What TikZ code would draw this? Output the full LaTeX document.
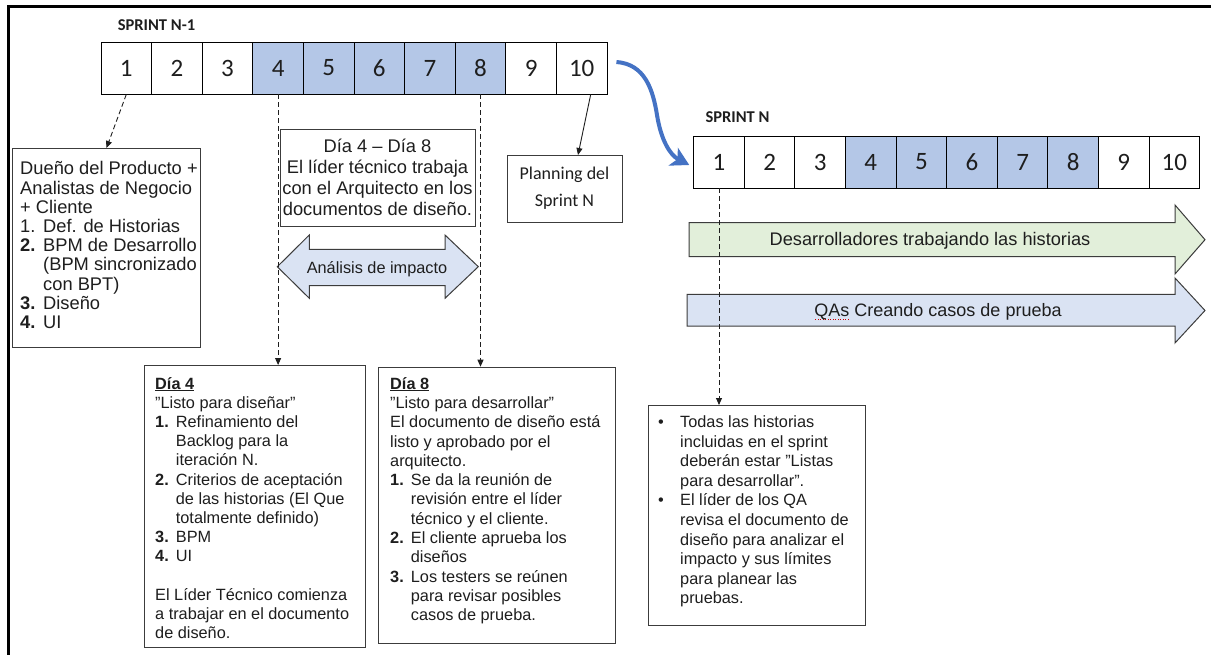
\documentclass[tikz,border=0pt]{standalone}
\usepackage{fontspec}
\setmainfont{Liberation Sans}[Ligatures=ResetAll]
\newfontfamily\calibrifont{Carlito}
\usetikzlibrary{arrows.meta,calc}

\definecolor{inkgray}{HTML}{1E1E1E}
\definecolor{cellblue}{HTML}{B4C7E7}
\definecolor{devgreen}{HTML}{E2EFDA}
\definecolor{qablue}{HTML}{DAE3F3}
\definecolor{flowblue}{HTML}{4472C4}
\definecolor{shapeline}{HTML}{3C3C3C}

% hanging indent for numbered / bulleted lines
\newlength\indw
\newcommand\itm[1]{\makebox[\indw][l]{#1}}
\newcommand\cont{\hspace*{\indw}}
\newcommand\txt[2]{\begin{minipage}[t]{#1}\raggedright #2\end{minipage}}
\newcommand\ctxt[2]{\begin{minipage}[t]{#1}\centering #2\end{minipage}}
% red dotted spell-check underline
\newcommand\squig[1]{\setbox0=\hbox{#1}\rlap{\color{red!80!black}\raisebox{-3.5pt}{\hbox to \wd0{\xleaders\hbox to 2.4pt{\hss\rule{1.1pt}{1.1pt}\hss}\hfill}}}\box0\relax}

\begin{document}
\begin{tikzpicture}[x=1pt,y=-1pt,
  cell/.style={draw=black, line width=0.9pt, minimum width=50.6pt, minimum height=52pt,
    inner sep=0pt, font=\calibrifont\fontsize{25}{30}\selectfont, text=inkgray},
  box/.style={draw=shapeline, line width=1pt, inner sep=0pt, anchor=north west},
  body/.style={inner sep=0pt, text=inkgray, anchor=base west},
  cbody/.style={inner sep=0pt, text=inkgray, anchor=base},
  sprintlbl/.style={inner sep=0pt, anchor=base, text=inkgray,
    font=\calibrifont\bfseries\fontsize{16.5}{20}\selectfont},
  blockarrow/.style={draw=shapeline, line width=1pt, line join=miter},
  dconn/.style={draw=inkgray, line width=0.9pt, dash pattern=on 5pt off 3pt,
    -{Triangle[length=7pt,width=6pt]}},
  sconn/.style={draw=inkgray, line width=0.9pt, -{Triangle[length=7pt,width=6pt]}},
  flow/.style={draw=flowblue, line width=4pt, -{Stealth[length=18pt,width=20pt,inset=5pt]}}
]
\useasboundingbox (0,0) rectangle (1211,655);
\fill[white] (0,0) rectangle (1211,655);

% outer frame (top and left edges)
\draw[line width=3pt, black] (8.5,655) -- (8.5,6.5) -- (1211,6.5);

% sprint labels
\node[sprintlbl] (s1lbl) at (156.5,30.3) {SPRINT N-1};
\node[sprintlbl] (s2lbl) at (737.5,122.3) {SPRINT N};

% day cells of both sprints
\foreach \i/\f in {1/white,2/white,3/white,4/cellblue,5/cellblue,6/cellblue,7/cellblue,8/cellblue,9/white,10/white}{
  \node[cell, fill=\f] (a\i) at ({101+50.6*(\i-0.5)},68) {\i};
  \node[cell, fill=\f] (b\i) at ({693.7+50.6*(\i-0.5)},162) {\i};
}

% product owner box
\node[box, minimum width=188pt, minimum height=198.7pt] (dueno) at (12,148) {};
\node[body, font=\fontsize{18.3}{19.2}\selectfont] (duenotxt) at (20,175) {\setlength\indw{23pt}\txt{200pt}{%
Dueño del Producto +\\
Analistas de Negocio\\
+ Cliente\\
\itm{1.}Def. de Historias\\
\itm{\textbf{2.}}BPM de Desarrollo\\
\cont(BPM sincronizado\\
\cont con BPT)\\
\itm{\textbf{3.}}Diseño\\
\itm{\textbf{4.}}UI}};

% design work box
\node[box, minimum width=195pt, minimum height=97pt] (diseno) at (280,129) {};
\node[cbody, font=\fontsize{18.3}{21}\selectfont] (disenotxt) at (377.5,152.5) {\ctxt{220pt}{%
Día 4 – Día 8\\
El líder técnico trabaja\\
con el Arquitecto en los\\
documentos de diseño.}};

% planning box
\node[box, minimum width=115pt, minimum height=67pt] (planning) at (507,155) {};
\node[cbody, font=\calibrifont\fontsize{18}{27}\selectfont] (planningtxt) at (564.5,180) {\ctxt{110pt}{%
Planning del\\Sprint N}};

% impact analysis double arrow
\draw[blockarrow, fill=qablue] (277.3,266.7) -- (309.3,235) -- (309.3,249.3) -- (445,249.3)
  -- (445,235) -- (478.3,266.7) -- (445,298.3) -- (445,285.7) -- (309.3,285.7)
  -- (309.3,298.3) -- cycle;
\node[cbody, font=\fontsize{16.3}{19}\selectfont] (impacto) at (377,274) {Análisis de impacto};

% developers and QA block arrows
\draw[blockarrow, fill=devgreen] (689,222.7) -- (1175,222.7) -- (1175,205) -- (1205,239.7)
  -- (1175,274) -- (1175,256.7) -- (689,256.7) -- cycle;
\node[cbody, font=\fontsize{18.2}{20}\selectfont] (devtxt) at (930,246) {Desarrolladores trabajando las historias};
\draw[blockarrow, fill=qablue] (687,294.3) -- (1175,294.3) -- (1175,278) -- (1205,310.5)
  -- (1175,343) -- (1175,326) -- (687,326) -- cycle;
\node[cbody, font=\fontsize{18}{20}\selectfont] (qatxt) at (938,316.3) {\squig{QAs} Creando casos de prueba};

% day 4 box
\node[box, minimum width=221pt, minimum height=281.7pt] (dia4) at (144,365) {};
\node[body, font=\fontsize{16.3}{19.2}\selectfont] (dia4txt) at (155,389.1) {\setlength\indw{20.7pt}\txt{220pt}{%
\underline{\textbf{Día 4}}\\
"Listo para diseñar"\\
\itm{\textbf{1.}}Refinamiento del\\
\cont Backlog para la\\
\cont iteración N.\\
\itm{\textbf{2.}}Criterios de aceptación\\
\cont de las historias (El Que\\
\cont totalmente definido)\\
\itm{\textbf{3.}}BPM\\
\itm{\textbf{4.}}UI\\
\mbox{}\\
El Líder Técnico comienza\\
a trabajar en el documento\\
de diseño.}};

% day 8 box
\node[box, minimum width=237pt, minimum height=276.3pt] (dia8) at (378,366.7) {};
\node[body, font=\fontsize{16.3}{19.3}\selectfont] (dia8txt) at (390,389.1) {\setlength\indw{20.7pt}\txt{240pt}{%
\underline{\textbf{Día 8}}\\
"Listo para desarrollar"\\
El documento de diseño está\\
listo y aprobado por el\\
arquitecto.\\
\itm{\textbf{1.}}Se da la reunión de\\
\cont revisión entre el líder\\
\cont técnico y el cliente.\\
\itm{\textbf{2.}}El cliente aprueba los\\
\cont diseños\\
\itm{\textbf{3.}}Los testers se reúnen\\
\cont para revisar posibles\\
\cont casos de prueba.}};

% sprint N start box
\node[box, minimum width=217pt, minimum height=220pt] (todas) at (648,405) {};
\node[body, font=\fontsize{16.3}{19.6}\selectfont] (todastxt) at (658,427.5) {\setlength\indw{22pt}\txt{220pt}{%
\itm{•}Todas las historias\\
\cont incluidas en el sprint\\
\cont deberán estar "Listas\\
\cont para desarrollar".\\
\itm{•}El líder de los QA\\
\cont revisa el documento de\\
\cont diseño para analizar el\\
\cont impacto y sus límites\\
\cont para planear las\\
\cont pruebas.}};

% connectors
\draw[dconn] (a1.south) -- (dueno.north);
\draw[dconn] (a4.south) -- (a4.south |- dia4.north);
\draw[dconn] (a8.south) -- (a8.south |- dia8.north);
\draw[dconn] (b1.south) -- (b1.south |- todas.north);
\draw[sconn] ($(a10.south)+(9,0)$) -- ($(planning.north)+(13,0)$);
\draw[flow] ($(a10.east)+(9,-6)$) .. controls (645,64) and (653,90) .. (657,115)
  .. controls (661,140) and (670,155) .. ($(b1.west)+(-4,3)$);
\end{tikzpicture}
\end{document}
